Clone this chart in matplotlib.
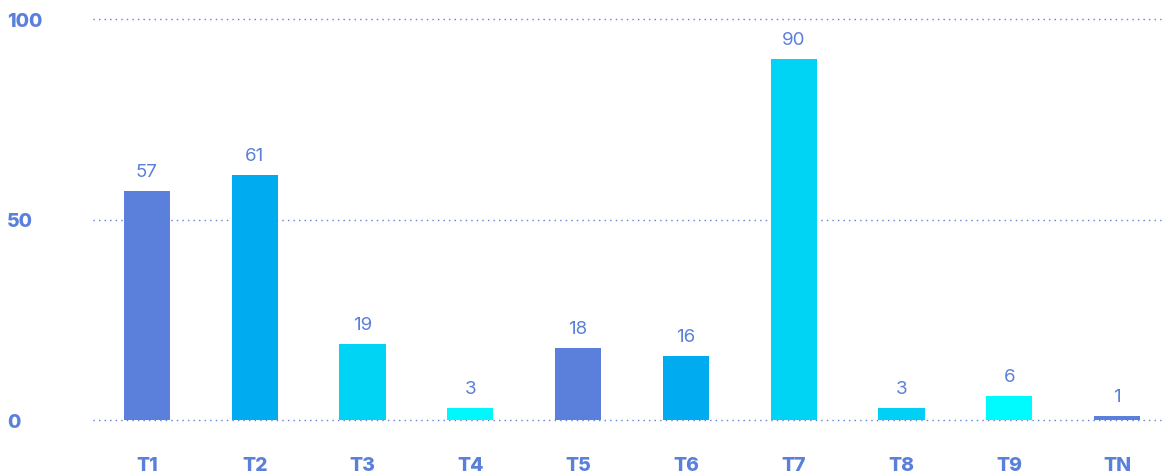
import matplotlib.pyplot as plt
import matplotlib
import numpy as np

matplotlib.rc('font', family=['Inter', 'DejaVu Sans'])

categories = ['T1', 'T2', 'T3', 'T4', 'T5', 'T6', 'T7', 'T8', 'T9', 'TN']
values = [57, 61, 19, 3, 18, 16, 90, 3, 6, 1]
colors = ['#5b80db', '#00abf0', '#00d4f5', '#00f8fc', '#5b80db',
          '#00abf0', '#00d4f5', '#00d0f5', '#00fbff', '#5b80db']
yticks = [0, 50, 100]

text_color = '#5b80db'

fig = plt.figure(figsize=(11.64, 4.77), dpi=100)
ax = fig.add_axes([93/1164, 56/477, 1 - 93/1164, 401/477])

x = np.arange(len(categories))
bars = ax.bar(x, values, width=0.43, color=colors, zorder=3)

for xi, v in zip(x, values):
    ax.annotate(str(v), (xi, v), xytext=(0, 8), textcoords='offset points',
                ha='center', va='bottom', fontsize=13.5, color=text_color)

ax.set_xlim(-0.5, 9.435)
ax.set_ylim(0, 100)
ax.set_yticks(yticks)
ax.set_yticklabels([str(t) for t in yticks], fontsize=14, fontweight='heavy',
                   color=text_color, ha='left')
ax.set_xticks(x)
ax.set_xticklabels(categories, fontsize=14, fontweight='heavy', color=text_color)
ax.tick_params(axis='y', length=0, pad=62)
ax.tick_params(axis='x', length=0, pad=26)
ax.grid(axis='y', color=text_color, linestyle=(0, (1, 3)), linewidth=1, zorder=0)
for gl in ax.get_ygridlines():
    gl.set_clip_on(False)
for s in ax.spines.values():
    s.set_visible(False)

fig.savefig('out.png', dpi=100)
